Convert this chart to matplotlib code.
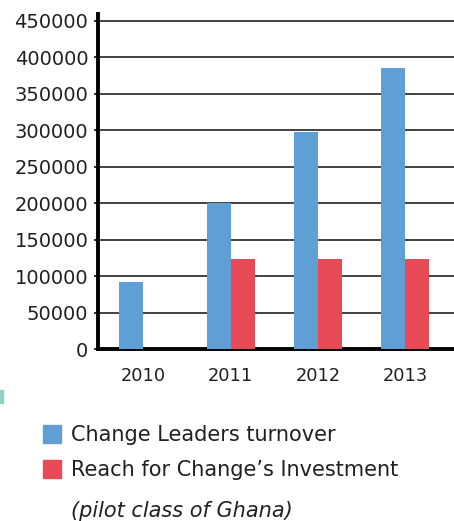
import matplotlib
matplotlib.use("Agg")
from matplotlib import pyplot as plt
from matplotlib.patches import Rectangle
import numpy as np

years = ["2010", "2011", "2012", "2013"]
turnover = [92000, 200000, 298000, 385000]
investment = [0, 123000, 123000, 123000]
yticks = [0, 50000, 100000, 150000, 200000, 250000, 300000, 350000, 400000, 450000]

blue = "#5f9fd6"
red = "#e84b55"
ink = "#231f20"

plt.rcParams["font.family"] = ["DejaVu Sans"]

fig = plt.figure(figsize=(4.54, 5.21), dpi=100)
ax = fig.add_axes([0.216, 0.330, 0.784, 0.643])

x = np.arange(len(years))
w = 0.275
ax.bar(x - w / 2, turnover, w, color=blue, zorder=3)
inv_x = [xi + w / 2 for xi, v in zip(x, investment) if v > 0]
inv_v = [v for v in investment if v > 0]
ax.bar(inv_x, inv_v, w, color=red, zorder=3)

ax.set_xlim(-0.52, 3.56)
ax.set_ylim(0, 459000)
ax.set_yticks(yticks)
ax.set_yticklabels([str(v) for v in yticks])
ax.set_xticks(x)
ax.set_xticklabels(years)
ax.yaxis.grid(True, color="#333333", linewidth=1.3, zorder=0)

for s in ["top", "right"]:
    ax.spines[s].set_visible(False)
ax.spines["left"].set_linewidth(2.8)
ax.spines["bottom"].set_linewidth(2.8)
ax.spines["left"].set_color("black")
ax.spines["bottom"].set_color("black")

ax.tick_params(axis="y", length=3, width=1.3, pad=4, labelsize=14, colors=ink)
ax.tick_params(axis="x", length=0, pad=13, labelsize=12.8, colors=ink)

# small teal mark at the left edge
fig.patches.append(Rectangle((0, 118 / 521), 3 / 454, 13 / 521,
                             transform=fig.transFigure, color="#8fd3c4"))

# legend drawn by hand
fig.patches.append(Rectangle((43 / 454, 78 / 521), 18 / 454, 18 / 521,
                             transform=fig.transFigure, color=blue))
fig.patches.append(Rectangle((43 / 454, 43 / 521), 18 / 454, 18 / 521,
                             transform=fig.transFigure, color=red))
fig.text(71 / 454, 86 / 521, "Change Leaders turnover", fontsize=15,
         color=ink, va="center")
fig.text(71 / 454, 51 / 521, "Reach for Change\u2019s Investment", fontsize=15,
         color=ink, va="center")
fig.text(71 / 454, 10 / 521, "(pilot class of Ghana)", fontsize=15,
         color=ink, va="center", style="italic")

fig.savefig("out.png", dpi=100)
